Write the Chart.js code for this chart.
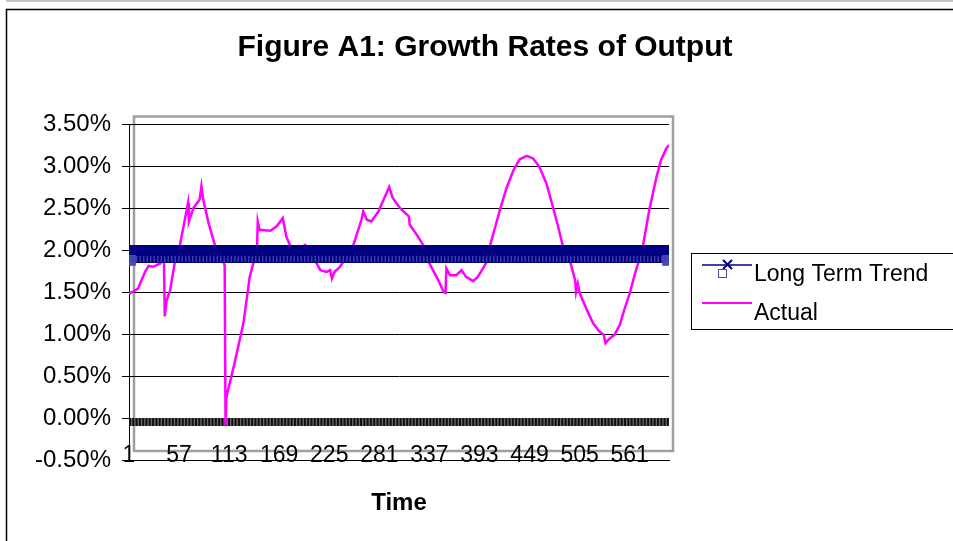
<!DOCTYPE html>
<html>
<head>
<meta charset="utf-8">
<script src="https://cdn.jsdelivr.net/npm/chart.js@4.4.1/dist/chart.umd.min.js"></script>
<style>
  html, body { margin: 0; padding: 0; background: #fff; }
  #wrap { width: 953px; height: 541px; position: relative; }
</style>
</head>
<body>
<div id="wrap"><canvas id="growthChart"></canvas></div>
<script>
// time index + actual growth rate (%)
const actualTime = [1, 5, 11, 19, 23, 28, 36, 39, 40, 41, 43, 47, 52, 58, 67, 68, 73, 80, 82, 84, 90, 97, 103, 108,
  109, 110, 119, 129, 136, 140, 144, 145, 147, 159, 166, 173, 177, 181, 187, 192, 198, 203, 211, 215, 222, 226,
  228, 231, 237, 242, 247, 252, 261, 263, 267, 272, 280, 285, 292, 296, 304, 311, 314, 315, 323, 330, 334, 337,
  347, 353, 355, 356, 360, 367, 373, 378, 386, 391, 397, 401, 405, 416, 423, 431, 438, 446, 453, 460, 468, 475,
  481, 486, 491, 494, 500, 501, 503, 505, 513, 520, 527, 532, 534, 537, 544, 550, 555, 561, 567, 571, 576, 583,
  591, 596, 602, 605];
const actualRate = [1.48, 1.50, 1.54, 1.74, 1.81, 1.80, 1.84, 1.90, 1.96, 1.21, 1.40, 1.52, 1.84, 2.06, 2.56, 2.34,
  2.50, 2.60, 2.76, 2.60, 2.32, 2.06, 1.95, 1.82, -0.09, 0.25, 0.65, 1.13, 1.68, 1.84, 1.95, 2.34, 2.24, 2.23,
  2.28, 2.38, 2.16, 2.06, 2.00, 2.02, 2.06, 1.95, 1.84, 1.76, 1.74, 1.76, 1.66, 1.74, 1.80, 1.88, 1.97, 2.06,
  2.36, 2.46, 2.36, 2.34, 2.46, 2.58, 2.75, 2.62, 2.50, 2.43, 2.40, 2.30, 2.18, 2.06, 1.95, 1.84, 1.64, 1.50,
  1.49, 1.78, 1.70, 1.70, 1.76, 1.68, 1.63, 1.68, 1.78, 1.86, 2.06, 2.48, 2.73, 2.95, 3.08, 3.12, 3.09, 2.99,
  2.79, 2.52, 2.28, 2.06, 1.95, 1.88, 1.64, 1.50, 1.60, 1.49, 1.29, 1.13, 1.03, 0.99, 0.89, 0.93, 0.99, 1.11,
  1.29, 1.48, 1.72, 1.86, 2.06, 2.48, 2.87, 3.07, 3.21, 3.25];

// long term trend is flat, drawn end to end
const trendTime = [1, 605];
const trendRate = [2.00, 2.00];
const trendMarkRate = [1.893, 1.893];   // the square-marker band just under it
const baseRate = [-0.048, -0.048];      // dark band sitting on 0.00%

const xTickLabels = [1, 57, 113, 169, 225, 281, 337, 393, 449, 505, 561];
const yTickMin = -0.5, yTickMax = 3.5, yTickStep = 0.5;

const FONT = "'Liberation Sans', Arial, sans-serif";

function pts(xs, ys) {
  return xs.map((x, i) => ({ x: x, y: ys[i] }));
}

const framePlugin = {
  id: 'frame_and_legend',
  beforeDraw: (chart) => {
    const ctx = chart.ctx;
    ctx.save();
    ctx.fillStyle = '#fff';
    ctx.fillRect(0, 0, chart.width, chart.height);
    // outer chart frame (runs off right/bottom)
    ctx.strokeStyle = '#b0b0b0';
    ctx.lineWidth = 1.5;
    ctx.beginPath(); ctx.moveTo(6, 1); ctx.lineTo(chart.width, 1); ctx.stroke();
    ctx.strokeStyle = '#000';
    ctx.lineWidth = 1.5;
    ctx.beginPath();
    ctx.moveTo(6.5, chart.height); ctx.lineTo(6.5, 9.5); ctx.lineTo(chart.width, 9.5);
    ctx.stroke();
    // grey plot area box, offset from the axes like the original
    ctx.strokeStyle = '#a0a0a0';
    ctx.lineWidth = 2.5;
    ctx.strokeRect(134, 116.5, 539, 334.5);
    ctx.restore();
  },
  afterDraw: (chart) => {
    const ctx = chart.ctx;
    const ds = chart.data.datasets;
    ctx.save();
    ctx.strokeStyle = '#000';
    ctx.lineWidth = 1;
    ctx.strokeRect(691.5, 253.5, 320, 76);

    // Long Term Trend entry
    ctx.strokeStyle = ds[0].borderColor;
    ctx.lineWidth = 1.7;
    ctx.beginPath(); ctx.moveTo(702, 265); ctx.lineTo(752, 265); ctx.stroke();
    ctx.lineWidth = 2;
    ctx.beginPath();
    ctx.moveTo(723, 260); ctx.lineTo(732, 269);
    ctx.moveTo(732, 260); ctx.lineTo(723, 269);
    ctx.stroke();
    ctx.strokeStyle = '#4a4ab4';
    ctx.lineWidth = 1;
    ctx.strokeRect(718.5, 269.5, 8, 8);

    // Actual entry
    ctx.strokeStyle = ds[3].borderColor;
    ctx.lineWidth = 2;
    ctx.beginPath(); ctx.moveTo(702, 303); ctx.lineTo(752, 303); ctx.stroke();

    ctx.fillStyle = '#000';
    ctx.font = '23px ' + FONT;
    ctx.textBaseline = 'alphabetic';
    ctx.textAlign = 'left';
    ctx.fillText(ds[0].label, 754, 281);
    ctx.fillText(ds[3].label, 754, 320);
    ctx.restore();
  }
};

const ctx = document.getElementById('growthChart').getContext('2d');
const growthChart = new Chart(ctx, {
  type: 'line',
  data: {
    datasets: [
      {
        label: 'Long Term Trend',
        data: pts(trendTime, trendRate),
        borderColor: '#000080',
        borderWidth: 10,
        pointStyle: 'crossRot',
        pointRadius: 6,
        pointBorderWidth: 2,
        pointBorderColor: '#000080',
        order: 0
      },
      {
        label: '',
        data: pts(trendTime, trendMarkRate),
        borderColor: '#3a3aa6',
        borderWidth: 6,
        borderDash: [1.5, 2],
        pointRadius: 0,
        order: 1
      },
      {
        label: '',
        data: pts(trendTime, trendMarkRate),
        borderColor: '#000080',
        borderWidth: 8,
        pointStyle: 'rect',
        pointRadius: 4,
        pointBorderColor: '#4a4ab4',
        pointBackgroundColor: '#000080',
        order: 2
      },
      {
        label: 'Actual',
        data: pts(actualTime, actualRate),
        borderColor: '#ff00ff',
        borderWidth: 2.5,
        pointRadius: 0,
        tension: 0,
        order: 3
      },
      {
        label: '',
        data: pts(trendTime, baseRate),
        borderColor: '#111',
        borderWidth: 8,
        borderDash: [2, 1.3],
        pointRadius: 0,
        order: 4
      },
      {
        label: '',
        data: pts(trendTime, baseRate),
        borderColor: '#6a6a6a',
        borderWidth: 8,
        pointRadius: 0,
        order: 5
      }
    ]
  },
  options: {
    responsive: true,
    maintainAspectRatio: false,
    animation: false,
    layout: { padding: { left: 17, top: 0, right: 0, bottom: 0 } },
    plugins: {
      legend: { display: false },
      tooltip: { enabled: false },
      title: {
        display: true,
        text: 'Figure A1: Growth Rates of Output',
        color: '#000',
        font: { family: FONT, size: 30, weight: 'bold' },
        padding: { top: 29.5, bottom: 58.5 }
      }
    },
    scales: {
      x: {
        type: 'linear',
        min: 1,
        max: 605,
        afterBuildTicks: (scale) => {
          scale.ticks = xTickLabels.map(v => ({ value: v }));
        },
        afterFit: (scale) => { scale.height = 81; },
        grid: { display: false, drawTicks: false },
        border: { display: true, color: '#000', width: 1 },
        ticks: {
          autoSkip: false,
          maxRotation: 0,
          mirror: true,      // labels sit over the axis line, as in the original
          padding: -9,
          color: '#000',
          font: { family: FONT, size: 23 },
          callback: (v) => String(v)
        },
        title: {
          display: true,
          text: 'Time',
          color: '#000',
          font: { family: FONT, size: 24, weight: 'bold' },
          padding: { top: 0, bottom: 23.6 }
        }
      },
      y: {
        min: yTickMin,
        max: yTickMax,
        afterFit: (scale) => { scale.width = 112; },
        grid: { color: '#000', lineWidth: 1, tickLength: 7, tickColor: '#000' },
        border: { display: true, color: '#000', width: 1 },
        ticks: {
          stepSize: yTickStep,
          padding: 11,
          color: '#000',
          font: { family: FONT, size: 24 },
          callback: (v) => v.toFixed(2) + '%'
        }
      },
      // empty box on the right to leave room for the legend
      side: {
        position: 'right',
        display: true,
        afterFit: (scale) => { scale.width = 284; },
        grid: { display: false, drawTicks: false },
        border: { display: false },
        ticks: { display: false }
      }
    }
  },
  plugins: [framePlugin]
});
</script>
</body>
</html>
